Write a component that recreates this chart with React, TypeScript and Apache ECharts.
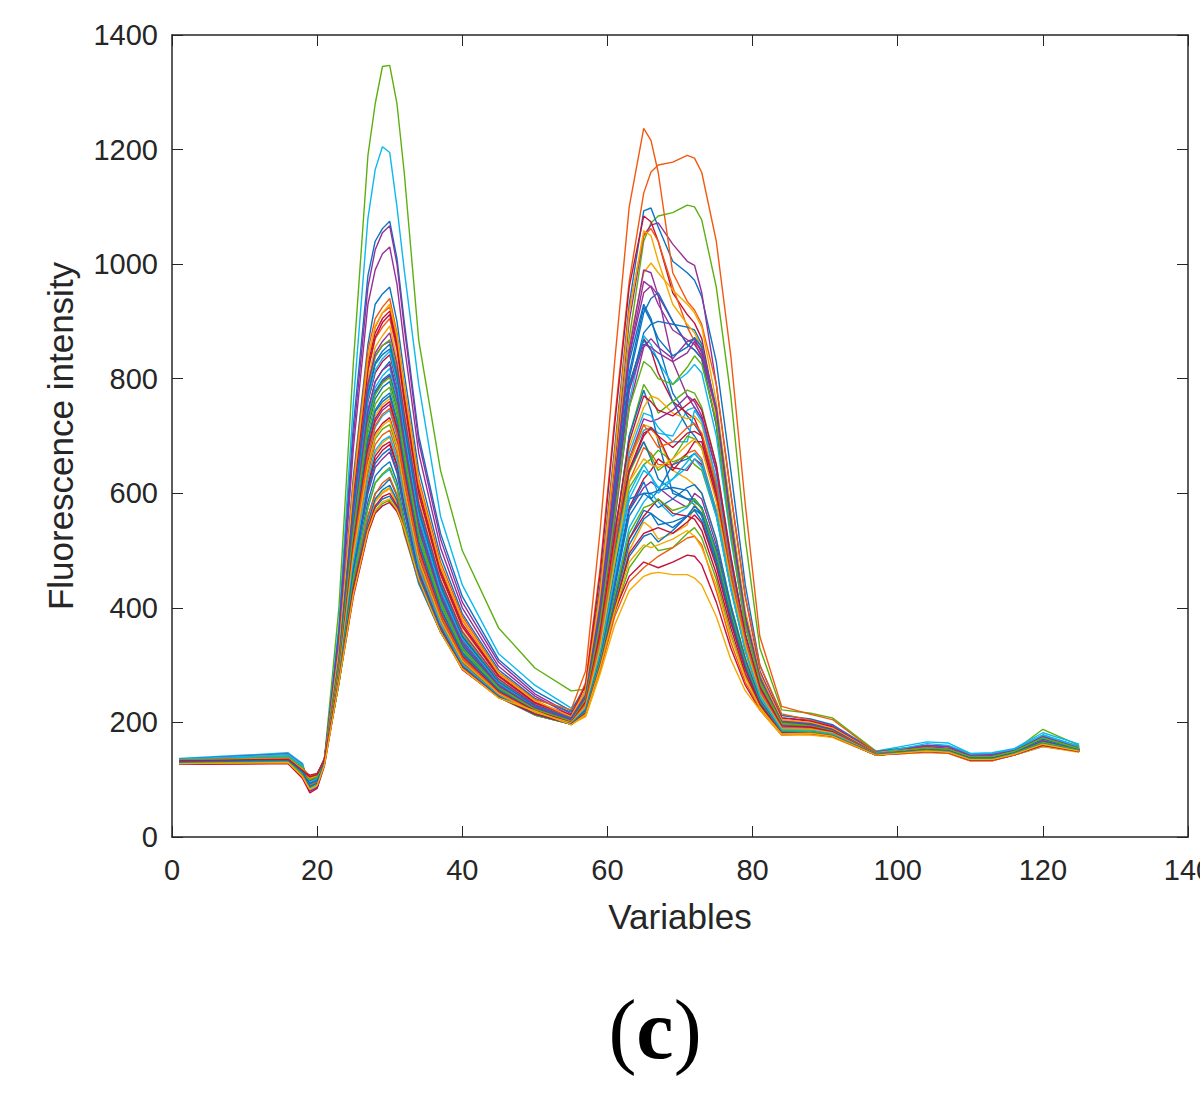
import React, { useEffect, useRef } from "react";
import * as echarts from "echarts";

const variables = [1,16,18,19,20,21,23,25,27,28,29,30,31,32,34,37,40,45,50,55,57,59,61,63,65,66,67,69,71,72,73,75,77,79,81,84,88,91,97,104,107,110,113,116,120,125];

const palette: Record<string, string> = { b: "#0A74C2", o: "#F2590F", y: "#F5A900", p: "#95309A", g: "#5BB010", c: "#0CB8EC", r: "#C2123C" };

const c01 = [134,146,122,84,92,136,400,830,1190,1280,1345,1347,1280,1160,867,640,500,365,295,255,258,400,640,870,1040,1072,1084,1090,1103,1100,1077,960,770,520,330,222,216,208,150,160,158,146,142,150,188,160];
const c02 = [137,147,128,82,88,130,370,760,1080,1165,1205,1195,1100,990,790,560,440,320,265,225,250,380,540,660,710,715,705,700,745,750,730,620,470,345,265,198,200,190,150,166,164,146,147,154,182,162];
const c03 = [131,139,118,90,96,134,360,720,980,1040,1062,1075,1010,900,700,530,420,310,255,220,265,440,680,930,1093,1098,1065,1005,985,972,943,830,640,440,300,212,206,196,149,160,158,143,145,152,178,158];
const c04 = [129,133,112,94,100,132,350,700,960,1025,1055,1067,1000,890,690,520,410,305,250,215,255,420,650,900,1050,1068,1072,1035,1005,998,950,790,600,420,290,208,204,194,147,158,155,141,142,150,176,156];
const c05 = [130,134,114,92,98,131,340,680,930,990,1018,1030,965,860,670,505,400,298,246,212,250,405,620,840,950,962,945,900,860,850,835,720,530,370,275,200,198,190,146,156,153,140,141,149,172,155];
const c06 = [133,136,120,104,108,138,330,630,860,930,948,960,900,810,640,490,390,292,242,218,245,400,610,830,930,905,860,775,735,720,700,610,470,345,265,195,195,186,147,155,152,139,140,148,170,154];
const c07 = [132,135,118,100,106,136,325,620,850,905,925,940,880,790,625,480,385,288,240,222,290,536,830,1100,1237,1216,1160,985,935,920,895,790,600,420,300,215,204,192,146,154,151,138,138,146,165,152];
const c08 = [128,131,110,96,102,130,320,610,835,890,915,925,868,780,615,470,378,285,238,210,270,470,730,970,1124,1161,1173,1178,1190,1185,1160,1040,840,580,350,228,214,205,148,156,153,140,139,148,168,153];
const c09 = [130,133,114,98,104,133,318,605,825,880,905,918,860,770,608,465,372,282,235,213,265,460,720,960,1084,1074,1040,950,912,897,870,740,560,390,285,208,202,192,147,152,150,137,137,146,166,152];
const c10 = [135,142,124,88,93,137,322,600,815,870,890,905,850,758,598,458,366,280,233,210,258,430,670,920,1050,1062,1040,960,890,865,835,720,530,370,275,205,199,190,146,155,152,139,140,149,171,154];
const c11 = [127,129,106,92,98,128,315,590,800,855,875,892,835,745,588,450,360,276,231,208,250,410,630,860,985,1002,985,955,930,915,890,760,570,395,285,205,198,189,145,151,149,136,136,145,164,151];
const c12 = [136,145,126,80,86,128,325,585,790,840,858,865,812,725,575,442,352,272,229,206,245,400,620,850,990,985,945,830,770,750,730,640,480,350,265,198,194,185,147,160,158,143,144,151,175,157];
const c13 = [132,137,116,103,107,135,312,570,770,825,842,852,800,715,565,435,348,270,228,207,245,390,590,800,915,940,950,900,860,850,835,720,530,370,275,200,196,187,146,153,151,138,139,147,169,153];
const c14 = [131,135,115,99,105,134,305,560,760,810,830,842,790,705,558,430,344,268,227,205,242,380,590,790,870,850,810,760,740,730,700,600,460,340,260,195,192,184,145,152,150,137,137,146,163,151];
const c15 = [129,132,111,96,102,131,302,550,745,795,815,830,780,695,550,425,340,266,226,204,240,380,570,780,880,895,900,895,890,885,860,740,550,385,280,200,197,188,146,154,152,139,139,148,170,153];
const c16 = [130,134,113,101,105,133,300,545,735,785,805,818,768,685,542,420,336,264,225,203,240,370,560,760,875,860,830,790,810,825,810,700,520,370,270,198,194,185,145,153,150,138,138,147,167,152];
const c17 = [128,131,109,93,99,130,298,540,725,775,795,805,757,675,535,415,332,262,224,203,238,365,550,750,855,870,855,835,865,870,845,740,540,375,275,200,195,186,146,151,149,136,136,145,162,150];
const c18 = [134,140,122,90,95,136,300,535,715,765,785,795,747,668,528,410,328,260,223,202,240,375,580,790,867,850,832,760,715,700,680,590,450,335,255,192,188,181,144,150,148,135,135,144,160,150];
const c19 = [132,136,117,97,103,134,294,528,705,755,775,785,738,660,522,405,325,258,222,202,235,350,520,700,790,770,740,760,780,775,750,650,490,355,265,195,193,184,146,155,153,140,140,149,172,154];
const c20 = [133,138,119,86,92,132,296,524,695,745,765,775,728,650,515,400,322,257,221,201,235,350,520,700,780,745,690,600,590,580,560,480,375,295,235,185,186,180,144,152,150,137,137,146,165,152];
const c21 = [130,133,113,100,104,132,290,515,685,735,755,765,720,642,508,395,318,255,220,200,232,345,510,680,750,770,765,740,730,735,720,620,470,345,258,192,190,183,145,151,149,136,136,145,163,151];
const c22 = [128,130,108,95,101,129,286,508,675,725,745,755,710,634,500,390,315,254,219,200,230,340,500,660,730,725,730,745,770,760,735,640,480,350,260,194,191,183,145,153,151,138,138,147,168,152];
const c23 = [136,144,125,83,89,129,292,505,665,715,735,745,700,625,495,386,312,252,218,199,230,340,500,670,740,735,715,690,690,745,725,625,470,345,256,192,189,182,146,163,160,145,146,153,178,158];
const c24 = [131,135,115,102,106,134,282,498,655,705,722,732,690,615,488,382,309,250,217,199,228,330,480,640,705,712,700,680,705,708,700,600,460,340,255,190,189,182,144,150,148,135,135,144,161,150];
const c25 = [129,132,110,94,100,130,280,490,645,695,712,720,680,606,480,378,306,249,216,198,225,325,475,635,690,665,640,660,700,695,680,590,450,335,252,190,187,180,144,152,149,137,136,146,164,151];
const c26 = [133,139,120,89,94,133,285,485,635,685,702,710,670,598,475,374,304,248,216,198,225,320,465,620,680,670,650,650,670,675,660,570,440,330,250,188,186,179,143,149,147,134,134,143,159,149];
const c27 = [132,136,116,98,104,135,276,480,622,670,688,698,658,588,468,370,301,247,215,197,228,335,490,650,720,715,695,640,625,615,600,520,405,315,245,186,185,179,144,151,149,136,137,146,166,152];
const c28 = [127,129,104,91,97,127,274,472,610,658,675,685,648,578,462,366,299,246,214,197,222,315,445,575,625,640,660,640,670,690,690,590,450,335,250,188,188,181,144,150,148,135,135,144,162,150];
const c29 = [130,133,112,101,106,131,272,465,600,645,660,672,636,568,455,362,297,245,213,197,220,310,440,570,610,620,610,590,575,600,590,510,400,310,240,184,184,178,143,151,149,136,136,145,167,151];
const c30 = [128,131,108,92,98,129,270,458,585,630,645,655,620,555,448,360,298,244,213,197,224,320,450,570,620,590,605,650,660,670,655,565,435,325,248,187,186,180,144,149,147,134,134,144,160,149];
const c31 = [135,141,123,87,92,134,280,455,575,618,632,642,610,546,448,360,297,246,214,198,218,305,425,540,585,600,585,560,575,590,575,500,395,305,238,183,183,177,144,154,152,138,139,148,171,153];
const c32 = [131,135,114,103,108,134,268,445,560,600,612,625,595,535,442,358,296,246,214,198,216,300,415,520,570,565,545,550,560,572,562,490,388,300,236,182,182,177,143,150,148,135,135,144,164,151];
const c33 = [129,132,109,97,102,130,272,440,548,588,602,610,585,528,446,358,297,245,213,197,215,298,405,500,550,540,520,530,545,580,565,485,385,298,235,182,184,178,144,152,150,137,137,146,167,152];
const c34 = [133,137,117,95,100,132,270,430,538,575,590,595,575,540,452,360,296,244,222,197,214,295,400,490,525,530,515,535,560,570,552,478,380,296,233,181,180,176,143,149,147,134,134,143,158,149];
const c35 = [132,135,116,85,91,131,268,424,532,568,582,588,570,535,450,358,294,243,222,196,213,292,390,470,505,515,500,505,530,540,522,450,355,280,228,180,181,176,143,151,149,136,136,145,166,151];
const c36 = [127,128,102,77,85,124,270,420,530,565,578,584,568,540,450,360,292,244,222,196,215,300,395,455,480,475,470,480,492,490,475,410,330,265,222,178,180,175,143,148,146,133,133,143,160,149];
const c37 = [134,138,120,106,110,136,275,440,560,598,618,628,598,540,448,358,296,246,216,198,212,290,385,445,470,480,490,505,522,525,510,430,340,270,225,180,179,175,144,150,148,135,136,145,163,150];
const c38 = [130,134,112,104,108,133,272,432,545,585,600,608,580,536,450,358,294,244,214,197,210,285,370,430,455,460,462,458,458,452,440,385,310,255,222,178,178,174,143,148,146,133,133,143,158,148];
const c39 = [131,134,114,108,111,134,285,475,615,665,682,690,650,580,468,370,302,248,216,199,218,305,420,520,560,575,590,565,560,555,535,460,365,285,232,181,182,176,143,150,148,135,135,145,162,150];
const c40 = [129,132,110,99,104,132,295,515,690,742,760,770,725,648,512,398,320,256,220,201,228,330,470,590,600,590,575,590,610,615,600,520,405,310,240,184,185,178,144,151,149,136,136,146,165,151];
const c41 = [133,137,118,96,101,134,300,540,728,778,798,808,760,680,538,418,334,263,224,203,235,345,500,640,690,660,625,605,590,590,575,500,390,300,238,184,185,178,144,152,150,137,137,146,166,152];
const c42 = [130,133,112,105,109,133,312,580,785,838,858,868,815,728,578,444,354,273,230,207,234,342,490,610,650,660,675,655,665,650,640,560,435,325,248,187,188,181,145,152,150,137,137,146,165,152];
const c43 = [132,136,116,100,105,135,318,598,815,872,898,912,855,762,600,460,368,281,234,211,238,355,515,640,700,715,700,645,640,660,650,565,440,330,250,188,190,182,145,153,151,138,138,147,168,152];
const c44 = [128,131,108,93,99,129,308,565,765,815,835,848,795,710,560,432,346,269,228,205,228,335,480,600,650,630,600,625,655,670,655,570,440,330,250,188,188,181,145,151,149,136,136,146,164,151];
const c45 = [131,134,116,95,101,133,325,612,835,892,915,930,875,785,618,472,380,286,238,210,256,425,665,915,1058,1050,1005,930,895,880,855,735,540,375,278,204,200,190,147,154,152,139,139,148,170,153];
const c46 = [130,133,113,98,103,132,310,580,790,845,865,880,825,738,582,448,358,276,231,208,248,405,625,840,970,960,930,885,868,860,840,745,555,385,278,202,198,188,146,153,151,138,138,147,168,152];
const c47 = [132,136,117,94,100,134,306,570,775,828,848,860,806,720,570,440,350,271,229,206,245,395,600,810,925,900,870,840,855,872,855,750,555,380,276,201,197,187,146,154,152,139,139,148,171,153];
const c48 = [129,132,110,97,103,131,296,545,742,795,815,825,774,690,545,422,338,265,226,204,242,385,580,780,860,855,845,830,845,865,850,745,545,378,275,200,195,186,145,152,150,137,137,146,166,152];
const c49 = [134,139,121,91,96,135,300,535,722,772,792,802,752,672,530,412,330,261,223,202,240,375,560,750,830,820,800,790,820,840,825,725,530,372,272,199,194,185,146,155,153,140,140,149,173,154];
const c50 = [131,134,114,99,104,133,288,512,680,730,750,760,715,638,504,392,316,254,220,200,236,355,530,690,770,760,745,735,755,765,745,650,490,355,262,194,192,184,145,152,150,137,137,146,166,151];
const c51 = [128,130,107,90,96,128,284,502,668,718,738,748,705,628,497,388,313,252,218,199,232,345,510,660,720,700,680,690,715,722,705,615,465,342,255,191,189,182,145,151,149,136,136,145,164,151];
const c52 = [133,137,118,102,106,135,280,492,650,700,718,728,685,610,484,380,308,250,217,199,228,330,480,620,660,650,645,660,685,695,678,585,448,335,250,189,188,181,144,150,148,135,135,145,162,150];
const c53 = [130,133,112,96,102,131,276,478,625,675,692,700,662,592,470,372,302,247,215,198,224,318,455,590,640,630,610,625,645,660,645,560,432,325,247,187,186,180,144,150,148,135,135,144,161,150];
const c54 = [132,135,115,93,99,132,274,468,605,652,668,678,640,572,458,364,298,245,214,197,222,310,435,560,600,600,605,610,605,585,575,500,395,305,238,184,184,178,144,152,150,137,137,146,166,152];
const c55 = [129,131,109,100,105,130,272,452,575,618,634,645,612,548,446,358,296,244,213,197,218,305,420,530,575,580,590,570,578,590,572,495,392,303,236,183,184,178,143,151,149,136,136,145,165,151];
const c56 = [131,134,113,88,94,131,270,438,550,590,606,614,588,532,446,358,296,245,214,197,217,300,410,510,555,565,555,540,560,578,565,485,385,298,234,182,182,177,143,150,148,135,135,144,163,150];
const c57 = [133,136,116,105,109,135,272,435,540,578,594,600,578,536,450,360,296,244,215,197,216,298,400,495,530,535,540,530,550,562,548,472,375,292,232,181,181,176,143,149,147,134,134,143,160,149];
const c58 = [128,130,105,83,90,126,270,425,535,570,585,590,572,538,450,358,294,243,220,196,214,296,395,480,510,505,510,520,535,525,505,440,350,278,226,180,181,176,143,150,148,135,135,144,162,150];

const curves = [c01,c02,c03,c04,c05,c06,c07,c08,c09,c10,c11,c12,c13,c14,c15,c16,c17,c18,c19,c20,c21,c22,c23,c24,c25,c26,c27,c28,c29,c30,c31,c32,c33,c34,c35,c36,c37,c38,c39,c40,c41,c42,c43,c44,c45,c46,c47,c48,c49,c50,c51,c52,c53,c54,c55,c56,c57,c58];
const curveColors = "gcbppbooroypbrbcpbgbypcrgoyrpbcbybgroyrbbgrcypbpgroycbgbry".split("");

const axisColor = "#262626";
const labelColor = "#262626";

export default function App() {
  const ref = useRef<HTMLDivElement>(null);
  useEffect(() => {
    document.body.style.margin = "0";
    const chart = echarts.init(ref.current!, undefined, { renderer: "svg" });
    const lineStyle = { color: axisColor, width: 1.5 };
    const tick = { show: true, inside: true, length: 11, lineStyle: { color: axisColor, width: 1 } };
    chart.setOption({
      animation: false,
      backgroundColor: "#ffffff",
      grid: { left: 172, top: 35, width: 1016, height: 802, containLabel: false, outerBoundsMode: "none" },
      xAxis: [
        {
          type: "value", min: 0, max: 140, interval: 20, position: "bottom",
          name: "Variables", nameLocation: "middle", nameGap: 62, nameTextStyle: { fontFamily: "Liberation Sans", fontSize: 35, color: labelColor },
          axisLine: { show: true, onZero: false, lineStyle }, axisTick: tick,
          axisLabel: { fontFamily: "Liberation Sans", fontSize: 29, color: labelColor, margin: 18, showMinLabel: true, showMaxLabel: true, formatter: (v: number) => String(v) },
          splitLine: { show: false },
        },
        {
          type: "value", min: 0, max: 140, interval: 20, position: "top",
          axisLine: { show: true, onZero: false, lineStyle }, axisTick: tick, axisLabel: { show: false }, splitLine: { show: false },
        },
      ],
      yAxis: [
        {
          type: "value", min: 0, max: 1400, interval: 200, position: "left",
          name: "Fluorescence intensity", nameLocation: "middle", nameGap: 94, nameTextStyle: { fontFamily: "Liberation Sans", fontSize: 35, color: labelColor },
          axisLine: { show: true, onZero: false, lineStyle }, axisTick: tick,
          axisLabel: { fontFamily: "Liberation Sans", fontSize: 29, color: labelColor, margin: 14, showMinLabel: true, showMaxLabel: true, formatter: (v: number) => String(v) },
          splitLine: { show: false },
        },
        {
          type: "value", min: 0, max: 1400, interval: 200, position: "right",
          axisLine: { show: true, onZero: false, lineStyle }, axisTick: tick, axisLabel: { show: false }, splitLine: { show: false },
        },
      ],
      graphic: [
        {
          type: "text", x: 655, y: 1029,
          style: {
            text: "{a|(}{b|c}{a|)}", textAlign: "center", textVerticalAlign: "middle", fill: "#000000",
            rich: {
              a: { fontFamily: "Liberation Serif", fontSize: 84, fill: "#000000" },
              b: { fontFamily: "Liberation Serif", fontWeight: "bold", fontSize: 84, fill: "#000000" },
            },
          },
        },
      ],
      series: curves.map((curve, i) => ({
        type: "line", xAxisIndex: 0, yAxisIndex: 0, symbol: "none", silent: true,
        lineStyle: { width: 1.4, color: palette[curveColors[i]] },
        data: curve.map((v, k) => [variables[k], v]),
      })),
    });
    return () => chart.dispose();
  }, []);
  return <div ref={ref} style={{ width: 1200, height: 1108 }} />;
}
